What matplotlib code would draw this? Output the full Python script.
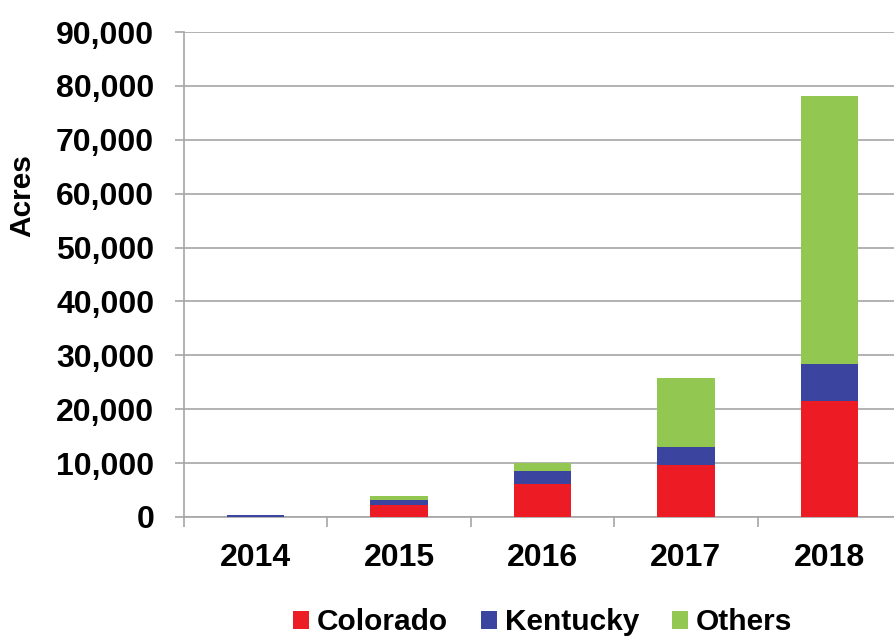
import matplotlib
matplotlib.use("Agg")
import matplotlib.pyplot as plt
import numpy as np

plt.rcParams['font.family'] = ['Liberation Sans', 'DejaVu Sans']
plt.rcParams['font.weight'] = 'bold'

years = ['2014', '2015', '2016', '2017', '2018']
colorado = [0, 2200, 6100, 9700, 21600]
kentucky = [350, 1000, 2450, 3300, 6700]
others = [0, 750, 1400, 12800, 49900]

series = [('Colorado', colorado, '#ED1C24'),
          ('Kentucky', kentucky, '#3B449E'),
          ('Others', others, '#92C852')]

fig = plt.figure(figsize=(8.95, 6.38), dpi=100)
ax = fig.add_axes([0.2056, 0.1897, 0.8011, 0.7601])

x = np.arange(len(years))
bottom = np.zeros(len(years))
for name, vals, col in series:
    ax.bar(x, vals, 0.4, bottom=bottom, color=col, label=name, zorder=3)
    bottom += np.array(vals)

grid_col = '#A6A6A6'
ax.set_ylim(0, 90000)
ax.set_xlim(-0.5, 4.5)
ax.set_yticks(np.arange(0, 90001, 10000))
ax.yaxis.set_major_formatter(matplotlib.ticker.FuncFormatter(lambda v, p: f'{int(v):,}'))
ax.set_xticks(x)
ax.set_xticklabels(years)
ax.set_xticks(np.arange(-0.5, 4.6, 1), minor=True)
ax.grid(axis='y', color=grid_col, linewidth=1.2, zorder=0)

for s in ['top', 'right']:
    ax.spines[s].set_visible(False)
for s in ['left', 'bottom']:
    ax.spines[s].set_color(grid_col)
    ax.spines[s].set_linewidth(1.2)

ax.tick_params(axis='y', length=6.5, width=1.2, color=grid_col, pad=15, labelsize=23)
ax.tick_params(axis='x', which='major', length=0, pad=19, labelsize=23)
ax.tick_params(axis='x', which='minor', length=7.5, width=1.2, color=grid_col)

# y-axis title placed in figure coordinates
fig.text(22 / 895, 1 - 196 / 638, 'Acres', rotation=90, ha='center', va='center',
         fontsize=21.5, fontweight='bold')

ax.legend(loc='center', bbox_to_anchor=(0.5, -0.217), ncol=3, frameon=False,
          fontsize=21.5, handlelength=0.55, handleheight=0.55, handletextpad=0.25,
          columnspacing=1.1)

fig.savefig('out.png', dpi=100)
